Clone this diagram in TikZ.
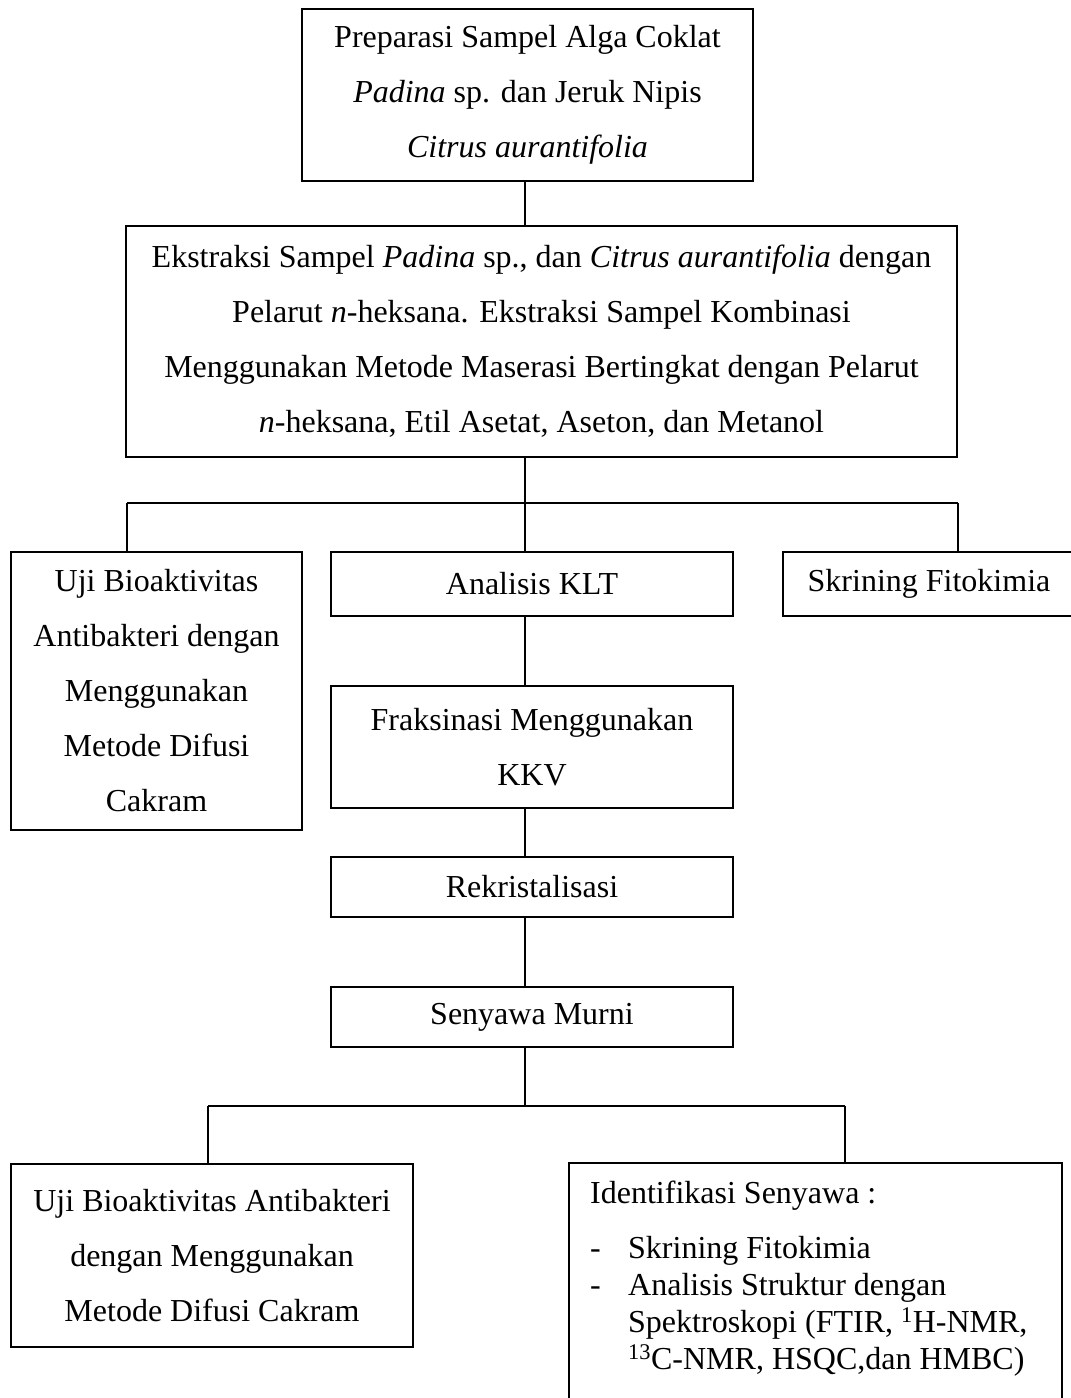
\documentclass[tikz,border=0pt]{standalone}
\usepackage{fontspec}
\setmainfont{Liberation Serif}
\newcommand{\boxfont}{\fontsize{32}{55}\selectfont}
\newcommand{\listfont}{\fontsize{32}{37}\selectfont}
\begin{document}
\begin{tikzpicture}[x=1pt,y=-1pt,
  stepbox/.style={draw,line width=1.1pt,inner sep=0pt,align=center,font=\boxfont},
  link/.style={line width=1.1pt},
  listline/.style={inner sep=0pt,anchor=base west,font=\listfont}]
\useasboundingbox (0,0) rectangle (1071,1398);
\clip (0,0) rectangle (1071,1398);

% main column
\node[stepbox,minimum width=451,minimum height=172] (prep) at (527.5,95)
  {Preparasi Sampel Alga Coklat\\ \textit{Padina} sp. dan Jeruk Nipis\\ \textit{Citrus aurantifolia}};
\node[stepbox,minimum width=831,minimum height=231] (ekst) at (541.5,341.5)
  {Ekstraksi Sampel \textit{Padina} sp., dan \textit{Citrus aurantifolia} dengan\\
   Pelarut \textit{n}-heksana. Ekstraksi Sampel Kombinasi\\
   Menggunakan Metode Maserasi Bertingkat dengan Pelarut\\
   \textit{n}-heksana, Etil Asetat, Aseton, dan Metanol};

% three branches
\node[stepbox,minimum width=291,minimum height=278] (uji1) at (156.5,691)
  {Uji Bioaktivitas\\ Antibakteri dengan\\ Menggunakan\\ Metode Difusi\\ Cakram};
\node[stepbox,minimum width=402,minimum height=64] (klt) at (532,584) {Analisis KLT};
\node[stepbox,minimum width=292,minimum height=64] (skr) at (929,584) {Skrining Fitokimia};

\node[stepbox,minimum width=402,minimum height=122] (frak) at (532,747)
  {Fraksinasi Menggunakan\\ KKV};
\node[stepbox,minimum width=402,minimum height=60] (rekr) at (532,887) {Rekristalisasi};
\node[stepbox,minimum width=402,minimum height=60] (murni) at (532,1017) {Senyawa Murni};

% final two boxes
\node[stepbox,minimum width=402,minimum height=183] (uji2) at (212,1255.5)
  {Uji Bioaktivitas Antibakteri\\ dengan Menggunakan\\ Metode Difusi Cakram};
\node[stepbox,minimum width=493,minimum height=257] (idf) at (815.5,1291.5) {};
\node[listline] (idfh) at (590,1203) {Identifikasi Senyawa :};
\node[listline] (d1) at (590,1258) {-};
\node[listline] (i1) at (628,1258) {Skrining Fitokimia};
\node[listline] (d2) at (590,1295) {-};
\node[listline] (i2) at (628,1295) {Analisis Struktur dengan};
\node[listline] (i3) at (628,1332) {Spektroskopi (FTIR, \textsuperscript{1}H-NMR,};
\node[listline] (i4) at (628,1369) {\textsuperscript{13}C-NMR, HSQC,dan HMBC)};

% connectors
\coordinate (spine) at (525,0);
\coordinate (jA) at (525,503);
\coordinate (jAL) at (127,503);
\coordinate (jAR) at (958,503);
\coordinate (jB) at (525,1106);
\coordinate (jBL) at (208,1106);
\coordinate (jBR) at (845,1106);

\draw[link] (prep.south -| spine) -- (ekst.north -| spine);
\draw[link] (ekst.south -| spine) -- (jA);
\draw[link] (jAL) -- (jAR);
\draw[link] (jAL) -- (jAL |- uji1.north);
\draw[link] (jA) -- (jA |- klt.north);
\draw[link] (jAR) -- (jAR |- skr.north);
\draw[link] (klt.south -| spine) -- (frak.north -| spine);
\draw[link] (frak.south -| spine) -- (rekr.north -| spine);
\draw[link] (rekr.south -| spine) -- (murni.north -| spine);
\draw[link] (murni.south -| spine) -- (jB);
\draw[link] (jBL) -- (jBR);
\draw[link] (jBL) -- (jBL |- uji2.north);
\draw[link] (jBR) -- (jBR |- idf.north);
\end{tikzpicture}
\end{document}
